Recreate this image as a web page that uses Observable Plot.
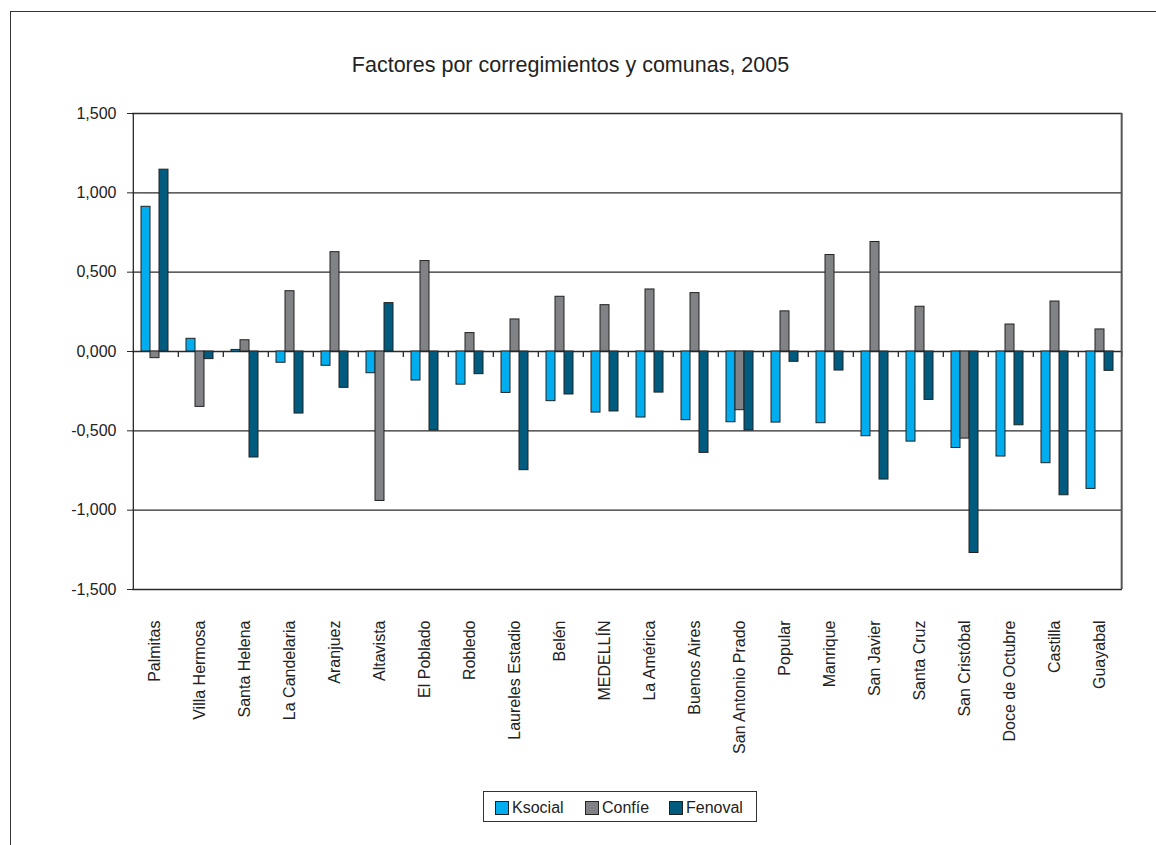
<!DOCTYPE html>
<html>
<head>
<meta charset="utf-8">
<script src="https://cdn.jsdelivr.net/npm/d3@7"></script>
<script src="https://cdn.jsdelivr.net/npm/@observablehq/plot@0.6"></script>
<style>
  html, body { margin: 0; padding: 0; background: #fff; }
  #wrap { position: relative; width: 1156px; height: 845px; overflow: hidden; font-family: "Liberation Sans", Arial, sans-serif; color: #222; }
  #chart { position: absolute; left: 0; top: 0; }
  #border { position: absolute; left: 10px; top: 11px; width: 1160px; height: 850px; border-left: 1.5px solid #333; border-top: 1.5px solid #333; pointer-events: none; }
  #title { position: absolute; left: 0; top: 53px; width: 1141px; text-align: center; font-size: 21.5px; line-height: 1.2; color: #222; }
  #legend { position: absolute; left: 483px; top: 791px; width: 272px; height: 29px; border: 1.5px solid #333; display: flex; align-items: center; font-size: 16px; }
  .item { display: flex; align-items: center; position: absolute; top: 7px; }
  .sw { width: 12px; height: 12px; border: 1px solid #222; margin-right: 3px; }
</style>
</head>
<body>
<div id="wrap">
  <div id="chart"></div>
  <div id="title">Factores por corregimientos y comunas, 2005</div>
  <div id="legend"></div>
  <div id="border"></div>
</div>
<script>
const categories = ["Palmitas", "Villa Hermosa", "Santa Helena", "La Candelaria", "Aranjuez", "Altavista", "El Poblado", "Robledo", "Laureles Estadio", "Belén", "MEDELLÍN", "La América", "Buenos Aires", "San Antonio Prado", "Popular", "Manrique", "San Javier", "Santa Cruz", "San Cristóbal", "Doce de Octubre", "Castilla", "Guayabal"];
const ksocial = [0.912, 0.080, 0.010, -0.071, -0.090, -0.137, -0.183, -0.209, -0.261, -0.313, -0.385, -0.416, -0.433, -0.446, -0.448, -0.452, -0.534, -0.568, -0.608, -0.662, -0.704, -0.866];
const confie = [-0.042, -0.349, 0.071, 0.380, 0.626, -0.942, 0.570, 0.116, 0.202, 0.345, 0.292, 0.391, 0.368, -0.370, 0.253, 0.608, 0.690, 0.282, -0.549, 0.170, 0.315, 0.139];
const fenoval = [1.146, -0.048, -0.668, -0.391, -0.229, 0.305, -0.498, -0.143, -0.748, -0.271, -0.378, -0.259, -0.639, -0.498, -0.065, -0.120, -0.807, -0.305, -1.270, -0.465, -0.906, -0.122];
const seriesNames = ["Ksocial", "Confíe", "Fenoval"];
const seriesColors = ["#00aeef", "#818285", "#005b7f"];
const yTicks = [-1.5, -1.0, -0.5, 0, 0.5, 1.0, 1.5];

const seriesValues = [ksocial, confie, fenoval];
const data = categories.flatMap((c, i) => seriesNames.map((s, j) => ({cat: c, series: s, value: seriesValues[j][i]})));

const fmt = d => d.toFixed(3).replace(".", ",");
const font = "Liberation Sans, Arial, sans-serif";
const half = 12.675; // offset from first bar center to facet edge

const chart = Plot.plot({
  width: 1156,
  height: 780,
  marginTop: 113,
  marginBottom: 191,
  marginLeft: 128,
  marginRight: 30,
  style: {fontFamily: font, fontSize: "16px", color: "#222", background: "transparent"},
  fx: {domain: categories, padding: 0, label: null},
  x: {domain: seriesNames, paddingInner: 0, paddingOuter: 0.7675, axis: null},
  y: {domain: [-1.5, 1.5], label: null},
  color: {domain: seriesNames, range: seriesColors},
  marks: [
    Plot.ruleY(yTicks, {stroke: "#2b2b2b", strokeWidth: 1.3}),
    Plot.barY(data, {fx: "cat", x: "series", y: "value", fill: "series", stroke: "#222", strokeWidth: 1}),
    // category separator ticks on the zero line
    Plot.ruleX(categories.slice(1), {fx: d => d, x: () => "Ksocial", y1: 0, y2: -0.038, dx: -half, stroke: "#2b2b2b", strokeWidth: 1.3}),
    Plot.ruleX(categories.slice(-1), {fx: d => d, x: () => "Fenoval", y1: 0, y2: -0.038, dx: half, stroke: "#2b2b2b", strokeWidth: 1.3}),
    // left axis line and right border
    Plot.ruleX(categories.slice(0, 1), {fx: d => d, x: () => "Ksocial", y1: -1.5, y2: 1.5, dx: -half, stroke: "#2b2b2b", strokeWidth: 1.3}),
    Plot.ruleX(categories.slice(-1), {fx: d => d, x: () => "Fenoval", y1: -1.5, y2: 1.5, dx: half, stroke: "#555", strokeWidth: 2}),
    Plot.axisY(yTicks, {tickSize: 5, tickPadding: 11, tickFormat: fmt, fontSize: 16, stroke: "#2b2b2b", fill: "#222", label: null}),
    Plot.axisFx({anchor: "bottom", tickSize: 0, tickPadding: 31, tickRotate: -90, fontSize: 16, fill: "#222", label: null})
  ]
});
document.getElementById("chart").appendChild(chart);

// legend
const legend = document.getElementById("legend");
const lefts = [11, 101, 185];
seriesNames.forEach((s, i) => {
  const item = document.createElement("div");
  item.className = "item";
  item.style.left = lefts[i] + "px";
  const sw = document.createElement("div");
  sw.className = "sw";
  sw.style.background = seriesColors[i];
  const lab = document.createElement("span");
  lab.textContent = s;
  item.appendChild(sw);
  item.appendChild(lab);
  legend.appendChild(item);
});
</script>
</body>
</html>
